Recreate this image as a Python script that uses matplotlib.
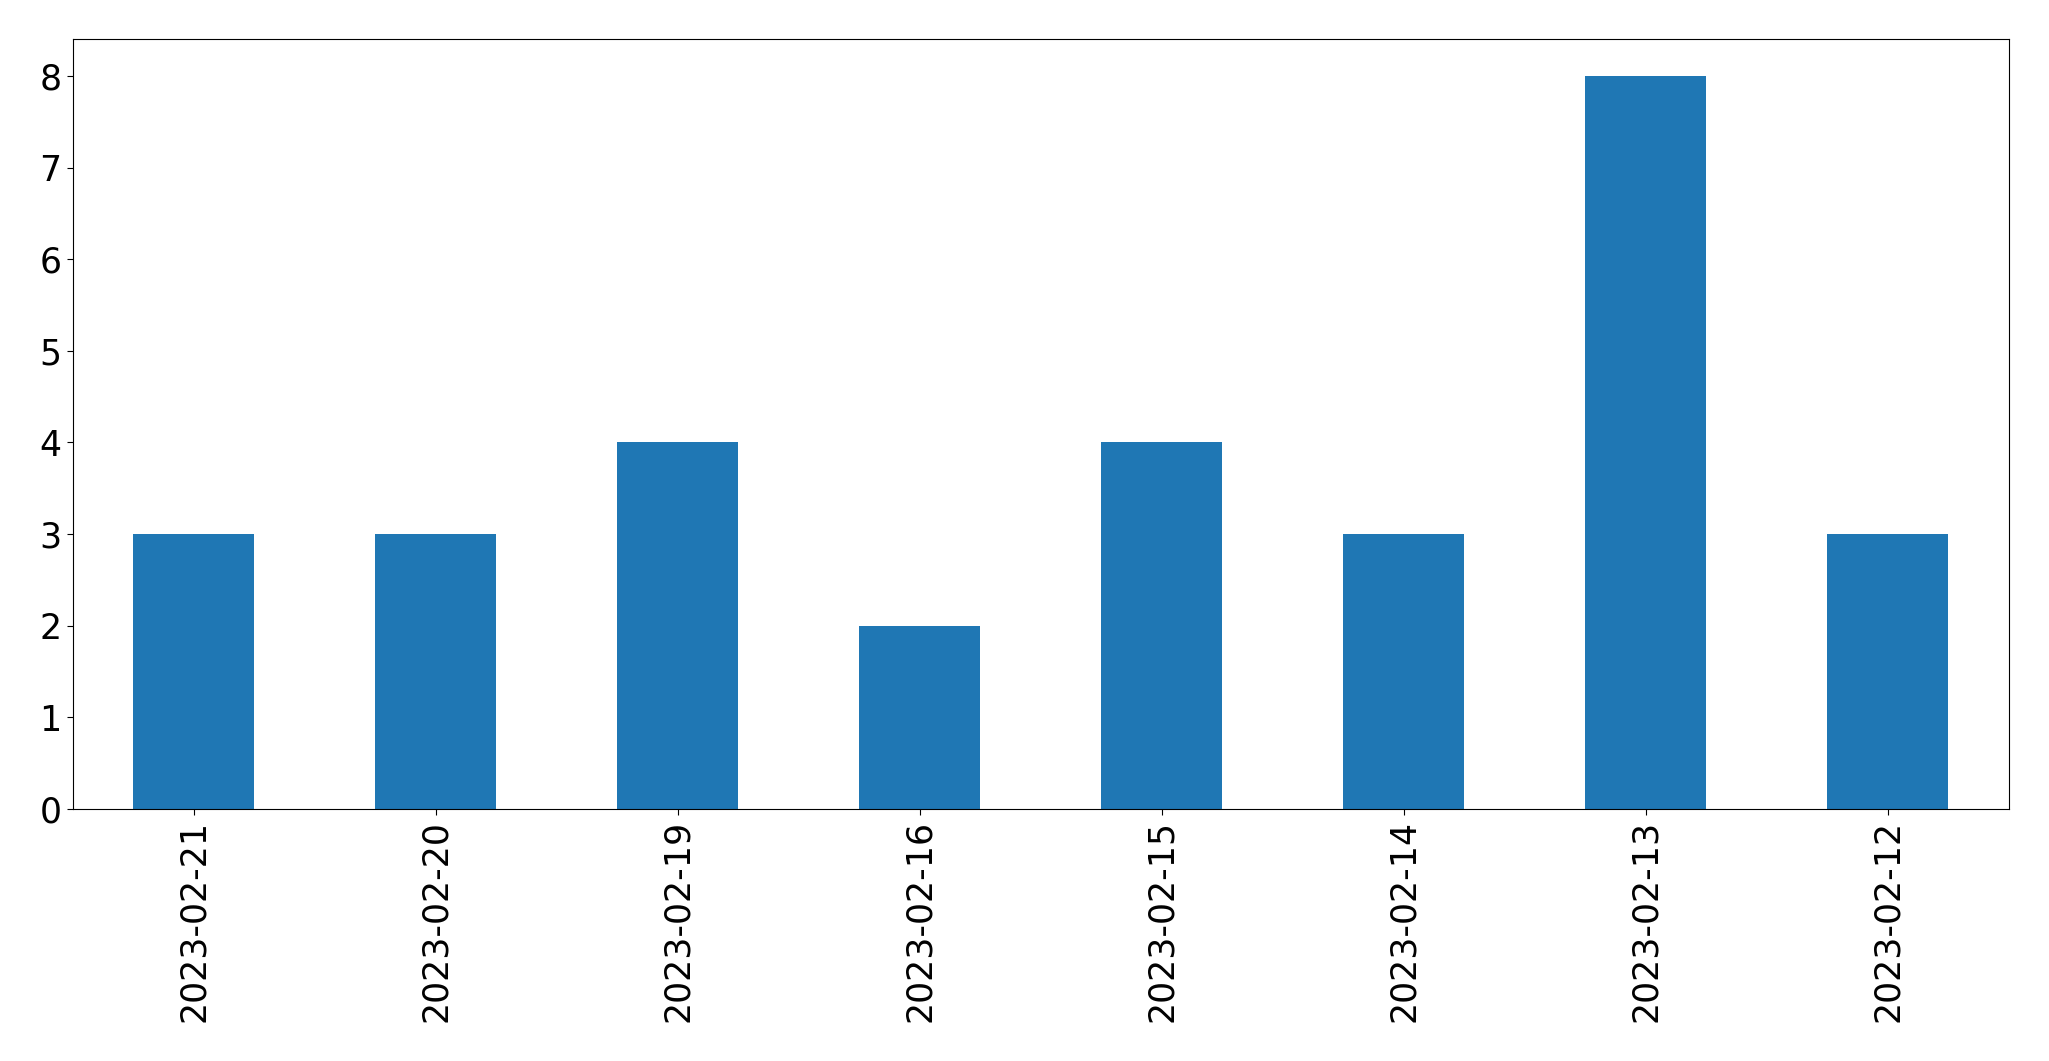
import matplotlib
matplotlib.use("Agg")
import matplotlib.pyplot as plt
import pandas as pd

dates = ["2023-02-21", "2023-02-20", "2023-02-19", "2023-02-16",
         "2023-02-15", "2023-02-14", "2023-02-13", "2023-02-12"]
counts = [3, 3, 4, 2, 4, 3, 8, 3]

s = pd.Series(counts, index=dates)

fig = plt.figure(figsize=(20.49, 10.61), dpi=100)
ax = fig.add_axes([72.5 / 2049, 1 - 809 / 1061, (2009 - 72.5) / 2049, (809 - 39.3) / 1061])
s.plot(kind="bar", ax=ax, color="#1f77b4")
ax.tick_params(axis="both", labelsize=25, length=4.3)
plt.setp(ax.get_xticklabels(), rotation=90)

fig.savefig("out.png", dpi=100)
